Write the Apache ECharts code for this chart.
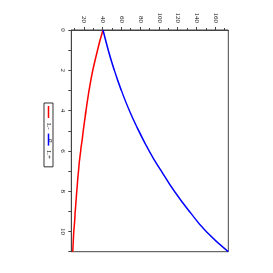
<!DOCTYPE html>
<html><head><meta charset="utf-8">
<script src="https://cdn.jsdelivr.net/npm/echarts@6/dist/echarts.min.js"></script>
<style>html,body{margin:0;padding:0;background:#fff;overflow:hidden;width:273px;height:273px}
#c{position:absolute;left:0;top:0;width:273px;height:273px;transform:rotate(90deg);transform-origin:136.5px 136.5px;}
</style></head><body><div id="c"></div>
<script>
const pValues=[0,1,2,3,4,5,6,7,8,9,10,11];
const lMinus=[40,34,29,25,21.8,18.8,16.2,13.9,12,10.3,8.8,7.6];
const lPlus=[40,45.5,52,59.5,68,78,89,102,116,132,150,173.4];
const yMajorTicks=[20,40,60,80,100,120,140,160];
const yMinorTicks=[10,30,50,70,90,110,130,150,170];
const pLabels=[0,2,4,6,8,10];
const seriesNames=['L-','L+'];
const colors=['#ff0000','#0000ff'];

const font='Liberation Serif';
const axisCol='#444';
const chart=echarts.init(document.getElementById('c'),null,{renderer:'canvas'});
const yBase={type:'value',min:6.15,max:173.4,position:'left',splitLine:{show:false}};
chart.setOption({
  animation:false,
  backgroundColor:'#fff',
  grid:{left:30,right:21.3,top:44.7,bottom:71.3,show:true,borderColor:axisCol,borderWidth:1,containLabel:false,outerBoundsMode:'none'},
  legend:{left:103,top:220,orient:'horizontal',icon:'rect',itemWidth:12,itemHeight:1.5,itemGap:4,
    padding:[1,8,1,3],borderColor:'#333',borderWidth:1,
    textStyle:{fontFamily:font,fontSize:7,color:'#222'},data:seriesNames},
  xAxis:{type:'value',min:0,max:11,interval:1,name:'p',nameLocation:'middle',nameGap:9,
    nameTextStyle:{fontFamily:font,fontStyle:'italic',fontSize:7,color:'#222'},
    axisLine:{show:true,lineStyle:{color:axisCol,width:1}},
    axisTick:{show:true,inside:false,length:3,lineStyle:{color:axisCol}},
    axisLabel:{customValues:pLabels,margin:5,fontFamily:font,fontSize:7,color:'#222'},
    splitLine:{show:false}},
  yAxis:[
    Object.assign({},yBase,{
      axisLine:{show:true,lineStyle:{color:axisCol,width:1}},
      axisTick:{show:true,customValues:yMajorTicks,length:3,lineStyle:{color:axisCol}},
      axisLabel:{customValues:yMajorTicks,margin:7,fontFamily:font,fontSize:7,color:'#222'}}),
    Object.assign({},yBase,{
      axisLine:{show:false},
      axisTick:{show:true,customValues:yMinorTicks,length:2,lineStyle:{color:axisCol}},
      axisLabel:{show:false}})
  ],
  series:[
    {name:seriesNames[0],type:'line',yAxisIndex:0,smooth:true,showSymbol:false,
     data:pValues.map((p,i)=>[p,lMinus[i]]),lineStyle:{color:colors[0],width:1.5},itemStyle:{color:colors[0]}},
    {name:seriesNames[1],type:'line',yAxisIndex:0,smooth:true,showSymbol:false,
     data:pValues.map((p,i)=>[p,lPlus[i]]),lineStyle:{color:colors[1],width:1.5},itemStyle:{color:colors[1]}}
  ]
});
</script></body></html>
